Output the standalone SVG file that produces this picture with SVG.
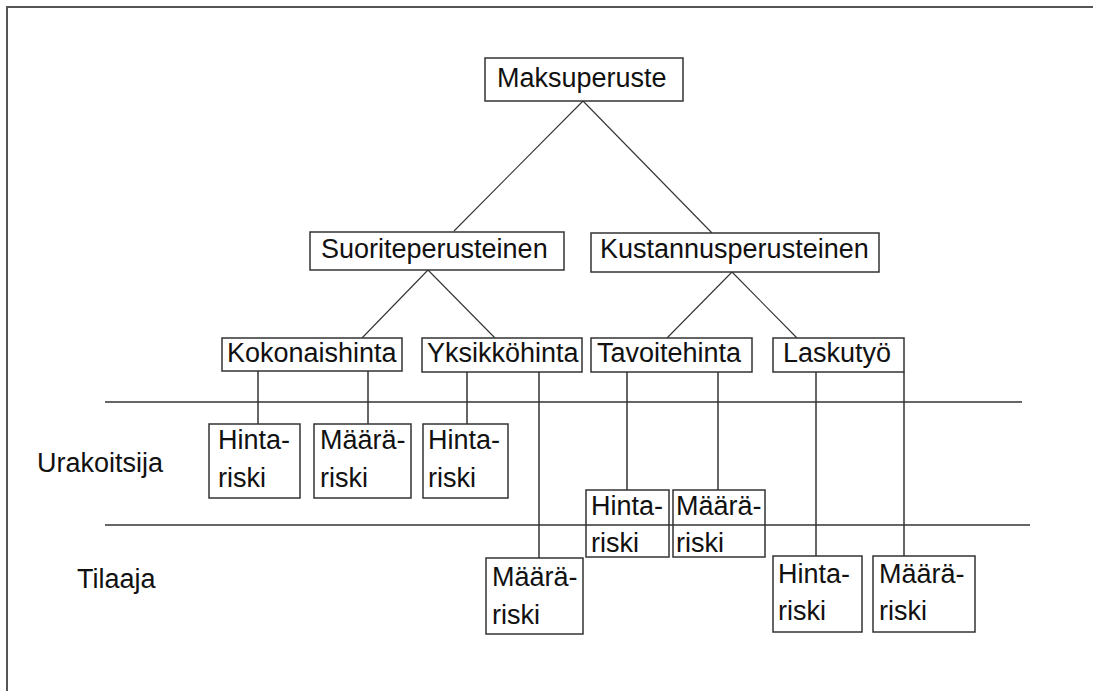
<svg xmlns="http://www.w3.org/2000/svg" width="1093" height="691" viewBox="0 0 1093 691">
<style>
.box{fill:#fff;stroke:#333;stroke-width:1.5}
.t{font-family:"Liberation Sans",Arial,sans-serif;font-size:27px;fill:#111}
.ln{stroke:#333;stroke-width:1.5;fill:none}
.dg{stroke:#333;stroke-width:1.1;fill:none}
</style>
<rect x="0" y="0" width="1093" height="691" fill="#fff"/>
<rect x="7" y="7" width="1200" height="800" fill="none" stroke="#555" stroke-width="2"/>
<text class="t" x="37" y="472">Urakoitsija</text>
<text class="t" x="77" y="588">Tilaaja</text>
<g id="connectors">
<line class="dg" x1="583" y1="101" x2="454" y2="231"/>
<line class="dg" x1="583" y1="101" x2="712" y2="233"/>
<line class="dg" x1="428" y1="270" x2="362" y2="338"/>
<line class="dg" x1="428" y1="270" x2="495" y2="338"/>
<line class="dg" x1="732" y1="272" x2="667" y2="338"/>
<line class="dg" x1="732" y1="272" x2="797" y2="338"/>
<line class="ln" x1="105" y1="402" x2="1022" y2="402"/>
<line class="ln" x1="105" y1="525" x2="1030" y2="525"/>
<line class="ln" x1="258" y1="371" x2="258" y2="424"/>
<line class="ln" x1="368" y1="371" x2="368" y2="424"/>
<line class="ln" x1="467" y1="372" x2="467" y2="424"/>
<line class="ln" x1="539" y1="372" x2="539" y2="558"/>
<line class="ln" x1="627" y1="372" x2="627" y2="490"/>
<line class="ln" x1="718" y1="372" x2="718" y2="490"/>
<line class="ln" x1="816" y1="372" x2="816" y2="556"/>
<line class="ln" x1="904" y1="372" x2="904" y2="556"/>
</g>
<g id="maksuperuste"><rect class="box" x="485" y="58" width="198" height="43"/><text class="t" x="497" y="87">Maksuperuste</text></g>
<g id="suoriteperusteinen"><rect class="box" x="310" y="232" width="254" height="38"/><text class="t" x="321" y="258">Suoriteperusteinen</text></g>
<g id="kustannusperusteinen"><rect class="box" x="591" y="233" width="288" height="39"/><text class="t" x="600" y="258">Kustannusperusteinen</text></g>
<g id="kokonaishinta"><rect class="box" x="222" y="338" width="180" height="33"/><text class="t" x="227" y="362">Kokonaishinta</text></g>
<g id="yksikkohinta"><rect class="box" x="422" y="338" width="160" height="34"/><text class="t" x="427" y="362">Yksikköhinta</text></g>
<g id="tavoitehinta"><rect class="box" x="591" y="338" width="161" height="34"/><text class="t" x="597" y="362">Tavoitehinta</text></g>
<g id="laskutyo"><rect class="box" x="773" y="338" width="131" height="34"/><text class="t" x="783" y="362">Laskutyö</text></g>
<g id="kok-hintariski"><rect class="box" x="209" y="424" width="91" height="74"/><text class="t" x="218" y="449">Hinta-</text><text class="t" x="218" y="487">riski</text></g>
<g id="kok-maarariski"><rect class="box" x="314" y="424" width="97" height="74"/><text class="t" x="320" y="449">Määrä-</text><text class="t" x="320" y="487">riski</text></g>
<g id="yks-hintariski"><rect class="box" x="423" y="424" width="85" height="74"/><text class="t" x="428" y="449">Hinta-</text><text class="t" x="428" y="487">riski</text></g>
<g id="yks-maarariski"><rect class="box" x="486" y="558" width="97" height="76"/><text class="t" x="492" y="586">Määrä-</text><text class="t" x="492" y="624">riski</text></g>
<g id="tav-hintariski"><rect class="box" x="586" y="490" width="83" height="67" fill-opacity="0"/><text class="t" x="591" y="515">Hinta-</text><text class="t" x="591" y="552">riski</text></g>
<g id="tav-maarariski"><rect class="box" x="673" y="490" width="92" height="67" fill-opacity="0"/><text class="t" x="676" y="515">Määrä-</text><text class="t" x="676" y="552">riski</text></g>
<g id="las-hintariski"><rect class="box" x="773" y="556" width="89" height="76"/><text class="t" x="778" y="583">Hinta-</text><text class="t" x="778" y="620">riski</text></g>
<g id="las-maarariski"><rect class="box" x="873" y="556" width="102" height="76"/><text class="t" x="879" y="583">Määrä-</text><text class="t" x="879" y="620">riski</text></g>
</svg>
